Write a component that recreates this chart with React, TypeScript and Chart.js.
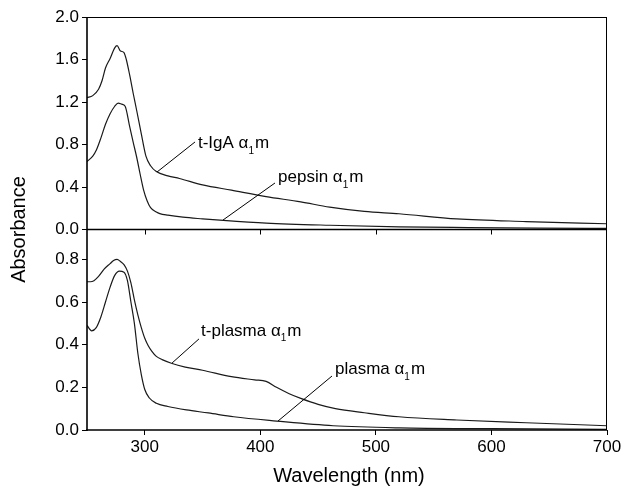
import React, { useEffect, useRef } from "react";
import { Chart, registerables } from "chart.js";
Chart.register(...registerables);

// ---- data ----
const tIgaX = [250, 255, 260, 263, 266, 270, 274, 276, 279, 282, 284, 287, 290, 293, 297, 301, 305, 310, 320, 330, 350, 375, 405, 435, 460, 490, 520, 570, 630, 700];
const tIgaY = [1.24, 1.26, 1.32, 1.40, 1.52, 1.61, 1.71, 1.73, 1.68, 1.665, 1.60, 1.45, 1.28, 1.12, 0.90, 0.69, 0.60, 0.545, 0.505, 0.48, 0.42, 0.37, 0.31, 0.26, 0.21, 0.17, 0.148, 0.10, 0.075, 0.054];

const pepsinX = [250, 255, 258, 262, 266, 270, 274, 277, 280, 283, 287, 290, 293, 296, 299, 302, 305, 310, 313, 320, 333, 350, 368, 405, 460, 520, 580, 640, 700];
const pepsinY = [0.64, 0.69, 0.745, 0.86, 0.99, 1.09, 1.16, 1.19, 1.18, 1.16, 0.965, 0.82, 0.68, 0.52, 0.37, 0.27, 0.205, 0.165, 0.15, 0.135, 0.116, 0.10, 0.085, 0.06, 0.04, 0.025, 0.018, 0.013, 0.01];

const tPlasmaX = [250, 253, 256, 260, 265, 270, 273, 276, 279, 282, 285, 288, 291, 294, 297, 300, 303, 306, 310, 315, 323, 335, 350, 375, 395, 405, 414, 425, 435, 450, 465, 490, 520, 570, 630, 700];
const tPlasmaY = [0.695, 0.695, 0.70, 0.72, 0.755, 0.78, 0.795, 0.80, 0.79, 0.775, 0.745, 0.69, 0.61, 0.54, 0.48, 0.43, 0.395, 0.37, 0.345, 0.33, 0.313, 0.295, 0.28, 0.25, 0.235, 0.228, 0.20, 0.17, 0.148, 0.12, 0.10, 0.081, 0.062, 0.047, 0.034, 0.02];

const plasmaX = [250, 254, 258, 262, 266, 270, 274, 278, 282, 285, 288, 291, 294, 297, 300, 304, 310, 320, 336, 355, 377, 414, 463, 520, 600, 700];
const plasmaY = [0.49, 0.465, 0.48, 0.53, 0.60, 0.67, 0.725, 0.745, 0.74, 0.70, 0.60, 0.50, 0.36, 0.26, 0.19, 0.15, 0.125, 0.11, 0.094, 0.08, 0.062, 0.042, 0.02, 0.01, 0.006, 0.003];

const xTicks = [300, 400, 500, 600, 700];
const topTicks = [0, 0.4, 0.8, 1.2, 1.6, 2.0];
const botTicks = [0, 0.2, 0.4, 0.6, 0.8];
const xMin = 250;
const xMax = 700;
const topMax = 2.0;
const botMax = 0.94;

const xTitle = "Wavelength (nm)";
const yTitle = "Absorbance";

// annotation labels (data coordinates)
const annotations = [
  { pre: "t-IgA α", sub: "1", post: "m", axis: "yTop", x: 346, y: 0.767, from: [343.5, 0.824], to: [310.6, 0.541] },
  { pre: "pepsin α", sub: "1", post: "m", axis: "yTop", x: 415.3, y: 0.447, from: [412.7, 0.438], to: [367.7, 0.089] },
  { pre: "t-plasma α", sub: "1", post: "m", axis: "yBot", x: 348.7, y: 0.441, from: [346.9, 0.427], to: [323.6, 0.314] },
  { pre: "plasma α", sub: "1", post: "m", axis: "yBot", x: 464.6, y: 0.2625, from: [462, 0.253], to: [415.3, 0.042] },
];

const FONT = '"Liberation Sans", Arial, sans-serif';

const toPts = (xs: number[], ys: number[]) => xs.map((x, i) => ({ x, y: ys[i] }));

const framePlugin = {
  id: "frame",
  afterDraw(chart: any) {
    const { ctx, scales } = chart;
    const xs = scales.x;
    const yt = scales.yTop;
    const yb = scales.yBot;
    const left = xs.left;
    const right = xs.right;
    const top = yt.top;
    const divider = yt.bottom;
    const bottom = yb.bottom;
    ctx.save();
    ctx.strokeStyle = "#000";
    // top and right borders
    ctx.lineWidth = 1;
    ctx.beginPath();
    ctx.moveTo(left, top + 0.5);
    ctx.lineTo(right, top + 0.5);
    ctx.moveTo(right - 0.5, top);
    ctx.lineTo(right - 0.5, bottom);
    ctx.stroke();
    // left, bottom, divider
    ctx.lineWidth = 1.6;
    ctx.beginPath();
    ctx.moveTo(left, top);
    ctx.lineTo(left, bottom + 1);
    ctx.moveTo(left - 1, bottom);
    ctx.lineTo(right, bottom);
    ctx.moveTo(left, divider);
    ctx.lineTo(right, divider);
    ctx.stroke();
    // inward ticks under the divider
    ctx.lineWidth = 1;
    ctx.beginPath();
    for (const v of xTicks) {
      if (v >= xMax) continue;
      const px = Math.round(xs.getPixelForValue(v)) + 0.5;
      ctx.moveTo(px, divider);
      ctx.lineTo(px, divider + 5);
    }
    ctx.stroke();

    // annotations
    ctx.fillStyle = "#000";
    ctx.textBaseline = "alphabetic";
    ctx.textAlign = "left";
    for (const a of annotations) {
      const ys = scales[a.axis];
      ctx.lineWidth = 1;
      ctx.beginPath();
      ctx.moveTo(xs.getPixelForValue(a.from[0]), ys.getPixelForValue(a.from[1]));
      ctx.lineTo(xs.getPixelForValue(a.to[0]), ys.getPixelForValue(a.to[1]));
      ctx.stroke();
      let px = xs.getPixelForValue(a.x);
      const py = ys.getPixelForValue(a.y);
      ctx.font = `17px ${FONT}`;
      ctx.fillText(a.pre, px, py);
      px += ctx.measureText(a.pre).width;
      ctx.font = `10px ${FONT}`;
      ctx.fillText(a.sub, px, py + 5.5);
      px += ctx.measureText(a.sub).width + 1;
      ctx.font = `17px ${FONT}`;
      ctx.fillText(a.post, px, py);
    }

    // axis titles
    ctx.font = `20px ${FONT}`;
    ctx.textAlign = "center";
    ctx.textBaseline = "middle";
    ctx.fillText(xTitle, (left + right) / 2 + 2, 476);
    ctx.save();
    ctx.translate(19, divider);
    ctx.rotate(-Math.PI / 2);
    ctx.fillText(yTitle, 0, 0);
    ctx.restore();
    ctx.restore();
  },
};

export default function App() {
  const ref = useRef<HTMLCanvasElement | null>(null);
  useEffect(() => {
    if (!ref.current) return;
    const lineStyle = {
      borderColor: "#1a1a1a",
      borderWidth: 1.2,
      pointRadius: 0,
      fill: false,
      cubicInterpolationMode: "monotone" as const,
    };
    const tickFont = { family: FONT, size: 17 };
    const chart = new Chart(ref.current, {
      type: "line",
      data: {
        datasets: [
          { label: "t-IgA α1m", data: toPts(tIgaX, tIgaY), yAxisID: "yTop", ...lineStyle },
          { label: "pepsin α1m", data: toPts(pepsinX, pepsinY), yAxisID: "yTop", ...lineStyle },
          { label: "t-plasma α1m", data: toPts(tPlasmaX, tPlasmaY), yAxisID: "yBot", ...lineStyle },
          { label: "plasma α1m", data: toPts(plasmaX, plasmaY), yAxisID: "yBot", ...lineStyle },
        ],
      },
      options: {
        animation: false,
        responsive: false,
        devicePixelRatio: 1,
        layout: { padding: { top: 17, right: 17, left: 0, bottom: 0 } },
        plugins: { legend: { display: false }, tooltip: { enabled: false } },
        scales: {
          x: {
            type: "linear",
            position: "bottom",
            min: xMin,
            max: xMax,
            afterBuildTicks: (s: any) => {
              s.ticks = xTicks.map((v) => ({ value: v }));
            },
            afterFit: (s: any) => {
              s.height = 58;
            },
            ticks: { color: "#000", font: tickFont, padding: 2, maxRotation: 0, autoSkip: false },
            grid: { drawOnChartArea: false, drawTicks: true, tickLength: 5, color: "#000", lineWidth: 1 },
            border: { display: false },
          },
          yBot: {
            type: "linear",
            position: "left",
            stack: "v",
            stackWeight: 200.5,
            min: 0,
            max: botMax,
            afterBuildTicks: (s: any) => {
              s.ticks = botTicks.map((v) => ({ value: v }));
            },
            afterFit: (s: any) => {
              s.width = 87;
            },
            ticks: { color: "#000", font: tickFont, padding: 3, callback: (v: any) => Number(v).toFixed(1) },
            grid: { drawOnChartArea: false, drawTicks: true, tickLength: 5, color: "#000", lineWidth: 1 },
            border: { display: false },
          },
          yTop: {
            type: "linear",
            position: "left",
            stack: "v",
            stackWeight: 212.5,
            min: 0,
            max: topMax,
            afterBuildTicks: (s: any) => {
              s.ticks = topTicks.map((v) => ({ value: v }));
            },
            afterFit: (s: any) => {
              s.width = 87;
            },
            ticks: { color: "#000", font: tickFont, padding: 3, callback: (v: any) => Number(v).toFixed(1) },
            grid: { drawOnChartArea: false, drawTicks: true, tickLength: 5, color: "#000", lineWidth: 1 },
            border: { display: false },
          },
        },
      } as any,
      plugins: [framePlugin],
    });
    return () => chart.destroy();
  }, []);
  return (
    <div style={{ position: "absolute", left: 0, top: 0, width: 624, height: 488, background: "#fff" }}>
      <canvas ref={ref} width={624} height={488} style={{ display: "block" }} />
    </div>
  );
}
